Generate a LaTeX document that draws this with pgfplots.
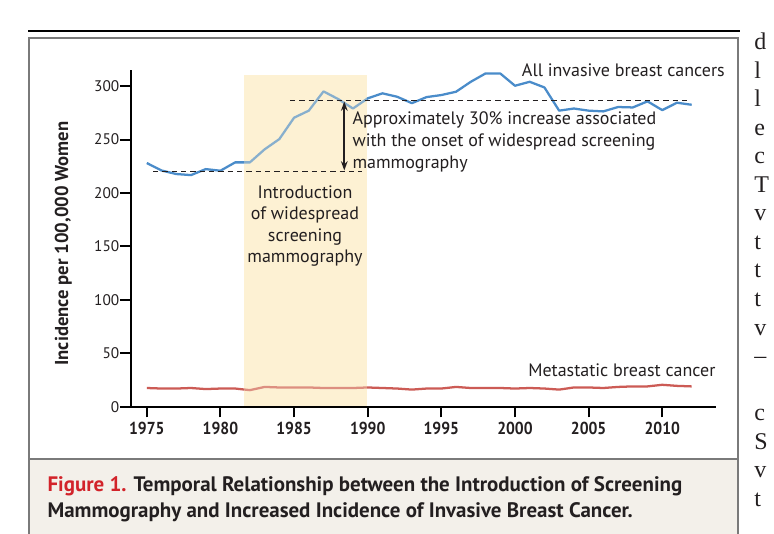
\documentclass[border=0pt]{standalone}
\usepackage{fontspec}
\setmainfont{PT Sans}
\newfontfamily\narrowfont[FakeStretch=0.9]{PT Sans}
\newfontfamily\pageserif{Liberation Serif}
\usepackage{pgfplots}
\pgfplotsset{compat=1.18}
\usetikzlibrary{arrows.meta}

\definecolor{invblue}{RGB}{74,140,202}
\definecolor{metred}{RGB}{204,91,85}
\definecolor{shadey}{RGB}{253,241,211}
\definecolor{framegrey}{RGB}{122,122,122}
\definecolor{capbg}{RGB}{243,240,234}
\definecolor{capred}{RGB}{210,35,42}
\definecolor{captext}{RGB}{35,31,32}

\begin{document}
\begin{tikzpicture}
\useasboundingbox (0,0) rectangle (580.5pt,-400.5pt);
\clip (0,0) rectangle (580.5pt,-400.5pt);

% frame, caption panel and the base of the shaded period (pixel units)
\begin{scope}[x=0.75pt,y=-0.75pt]
\fill[white] (0,0) rectangle (774,534);
\fill[capbg] (29,459) rectangle (738,540);
\draw[black, line width=1.6pt] (28,31) -- (740,31);
\draw[framegrey, line width=1.5pt] (29,545) -- (29,38.5) -- (738,38.5) -- (738,545);
\draw[framegrey, line width=1.5pt] (29,459) -- (738,459);
\fill[shadey] (243.5,75) rectangle (366.7,405.5);
\end{scope}

\begin{axis}[
  at={(97.95pt,-305.03pt)}, anchor=south west,
  scale only axis, width=439.05pt, height=252.5pt,
  xmin=1973.9, xmax=2013.65, ymin=0, ymax=315,
  axis lines*=left,
  axis line style={line width=1.5pt, black},
  xtick={1975,1980,...,2010}, ytick={0,50,...,300},
  tick align=outside,
  tick style={line width=1.5pt, black},
  major tick length=8pt,
  /pgf/number format/assume math mode=true,
  xticklabel style={font=\narrowfont\bfseries\fontsize{13}{15}\selectfont,
    /pgf/number format/1000 sep={}, text=captext},
  yticklabel style={font=\fontsize{11.5}{13}\selectfont, xshift=3pt, text=captext},
  clip=false,
]
% All invasive breast cancers
\addplot[invblue, line width=1.7pt, line join=round] coordinates {
(1975,228) (1976,221) (1977,217.7) (1978,216.7) (1979,222.3) (1980,220.8)
(1981,228.6) (1982,228.6) (1983,240.8) (1984,250.4) (1985,270.4) (1986,277)
(1987,295) (1988,287.8) (1989,279) (1990,288.5) (1991,293.2) (1992,290)
(1993,284) (1994,289.7) (1995,291.6) (1996,294.7) (1997,304) (1998,311.8)
(1999,311.8) (2000,300.3) (2001,304) (2002,298.7) (2003,277) (2004,279)
(2005,277) (2006,276.3) (2007,280.4) (2008,280) (2009,285.7) (2010,277.5)
(2011,284.4) (2012,282.5)
};
% Metastatic breast cancer
\addplot[metred, line width=1.7pt, line join=round] coordinates {
(1975,17.5) (1976,17) (1977,17) (1978,17.5) (1979,16.5) (1980,17)
(1981,17) (1982,15.5) (1983,18.5) (1984,18) (1985,18) (1986,18)
(1987,17.5) (1988,17.5) (1989,17.5) (1990,18) (1991,17.5) (1992,17)
(1993,16) (1994,17) (1995,17) (1996,18.5) (1997,17.5) (1998,17.5)
(1999,17.5) (2000,17) (2001,17.5) (2002,17) (2003,16) (2004,18)
(2005,18) (2006,17.5) (2007,18.5) (2008,19) (2009,19) (2010,20.5)
(2011,19.5) (2012,19)
};
\end{axis}

\begin{scope}[x=0.75pt,y=-0.75pt]
% the shaded period is laid over the lines
\fill[shadey, opacity=0.35] (243.5,75) rectangle (366.7,405);
% reference levels and the increase
\draw[captext, line width=0.9pt, dash pattern=on 4pt off 3pt] (153,171.7) -- (362,171.7);
\draw[captext, line width=0.9pt, dash pattern=on 4pt off 3pt] (290,100.3) -- (690,100.3);
\draw[captext, line width=1.3pt, {Stealth[length=7pt,width=5pt]}-{Stealth[length=7pt,width=5pt]}] (344.3,101.5) -- (344.3,170.5);

\begin{scope}[every node/.style={text=captext, inner sep=0pt, font=\fontsize{13.5}{16}\selectfont}]
\node[anchor=base west] at (521.7,76.7) {All invasive breast cancers};
\node[anchor=base west] at (528,376.7) {Metastatic breast cancer};
\node[anchor=base west] at (352.3,125) {Approximately 30\% increase associated};
\node[anchor=base west] at (352.3,146.6) {with the onset of widespread screening};
\node[anchor=base west] at (352.3,168.2) {mammography};
\node[anchor=base] at (305,198.3) {Introduction};
\node[anchor=base] at (305,219.8) {of widespread};
\node[anchor=base] at (305,241.3) {screening};
\node[anchor=base] at (305,262.8) {mammography};
\end{scope}

% y axis title
\node[rotate=90, text=captext, inner sep=0pt, font=\bfseries\fontsize{14}{16}\selectfont] at (63.3,243.6) {Incidence per 100,000 Women};

% caption
\begin{scope}[every node/.style={inner sep=0pt, anchor=base west, font=\bfseries\fontsize{15.7}{18}\selectfont}]
\node[text=captext] at (47.3,491.7) {{\color{capred}Figure 1.} Temporal Relationship between the Introduction of Screening};
\node[text=captext] at (47.3,517) {Mammography and Increased Incidence of Invasive Breast Cancer.};
\end{scope}

% first letters of the neighbouring page column
\begin{scope}[every node/.style={inner sep=0pt, anchor=base west, text=captext, font=\pageserif\fontsize{18}{20}\selectfont}]
\foreach \w [count=\i from 0] in {d,l,l,e,c,T,v,t,t,t,v,–,{},c,S,v,t} {
  \node at (754,{50+28.5*\i}) {\w};
}
\end{scope}
\end{scope}
\end{tikzpicture}
\end{document}
